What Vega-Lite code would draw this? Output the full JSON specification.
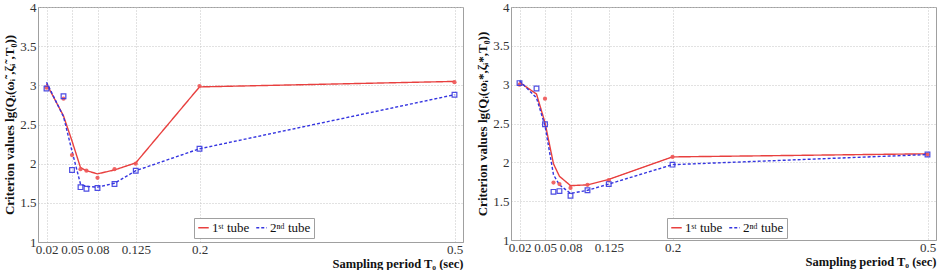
{
  "$schema": "https://vega.github.io/schema/vega-lite/v6.json",
  "background": "white",
  "padding": {"left": 3, "top": 0, "right": 2, "bottom": 0},
  "spacing": 12,
  "datasets": {
    "left": [
      {"tube": "1ˢᵗ tube", "kind": "fit", "T": 0.02, "v": 3.02},
      {"tube": "1ˢᵗ tube", "kind": "fit", "T": 0.04, "v": 2.61},
      {"tube": "1ˢᵗ tube", "kind": "fit", "T": 0.05, "v": 2.29},
      {"tube": "1ˢᵗ tube", "kind": "fit", "T": 0.06, "v": 1.95},
      {"tube": "1ˢᵗ tube", "kind": "fit", "T": 0.067, "v": 1.91},
      {"tube": "1ˢᵗ tube", "kind": "fit", "T": 0.08, "v": 1.87},
      {"tube": "1ˢᵗ tube", "kind": "fit", "T": 0.1, "v": 1.92},
      {"tube": "1ˢᵗ tube", "kind": "fit", "T": 0.125, "v": 2.01},
      {"tube": "1ˢᵗ tube", "kind": "fit", "T": 0.2, "v": 2.98},
      {"tube": "1ˢᵗ tube", "kind": "fit", "T": 0.5, "v": 3.05},
      {"tube": "2ⁿᵈ tube", "kind": "fit", "T": 0.02, "v": 3.04},
      {"tube": "2ⁿᵈ tube", "kind": "fit", "T": 0.04, "v": 2.6},
      {"tube": "2ⁿᵈ tube", "kind": "fit", "T": 0.05, "v": 2.16},
      {"tube": "2ⁿᵈ tube", "kind": "fit", "T": 0.06, "v": 1.74},
      {"tube": "2ⁿᵈ tube", "kind": "fit", "T": 0.067, "v": 1.71},
      {"tube": "2ⁿᵈ tube", "kind": "fit", "T": 0.08, "v": 1.7},
      {"tube": "2ⁿᵈ tube", "kind": "fit", "T": 0.1, "v": 1.75},
      {"tube": "2ⁿᵈ tube", "kind": "fit", "T": 0.125, "v": 1.91},
      {"tube": "2ⁿᵈ tube", "kind": "fit", "T": 0.2, "v": 2.19},
      {"tube": "2ⁿᵈ tube", "kind": "fit", "T": 0.5, "v": 2.88},
      {"tube": "1ˢᵗ tube", "kind": "measured", "T": 0.02, "v": 2.97},
      {"tube": "1ˢᵗ tube", "kind": "measured", "T": 0.04, "v": 2.83},
      {"tube": "1ˢᵗ tube", "kind": "measured", "T": 0.05, "v": 2.11},
      {"tube": "1ˢᵗ tube", "kind": "measured", "T": 0.06, "v": 1.93},
      {"tube": "1ˢᵗ tube", "kind": "measured", "T": 0.067, "v": 1.91},
      {"tube": "1ˢᵗ tube", "kind": "measured", "T": 0.08, "v": 1.82},
      {"tube": "1ˢᵗ tube", "kind": "measured", "T": 0.1, "v": 1.93},
      {"tube": "1ˢᵗ tube", "kind": "measured", "T": 0.125, "v": 2.0},
      {"tube": "1ˢᵗ tube", "kind": "measured", "T": 0.2, "v": 2.99},
      {"tube": "1ˢᵗ tube", "kind": "measured", "T": 0.5, "v": 3.04},
      {"tube": "2ⁿᵈ tube", "kind": "measured", "T": 0.02, "v": 2.96},
      {"tube": "2ⁿᵈ tube", "kind": "measured", "T": 0.04, "v": 2.86},
      {"tube": "2ⁿᵈ tube", "kind": "measured", "T": 0.05, "v": 1.92},
      {"tube": "2ⁿᵈ tube", "kind": "measured", "T": 0.06, "v": 1.7},
      {"tube": "2ⁿᵈ tube", "kind": "measured", "T": 0.067, "v": 1.68},
      {"tube": "2ⁿᵈ tube", "kind": "measured", "T": 0.08, "v": 1.69},
      {"tube": "2ⁿᵈ tube", "kind": "measured", "T": 0.1, "v": 1.74},
      {"tube": "2ⁿᵈ tube", "kind": "measured", "T": 0.125, "v": 1.91},
      {"tube": "2ⁿᵈ tube", "kind": "measured", "T": 0.2, "v": 2.19},
      {"tube": "2ⁿᵈ tube", "kind": "measured", "T": 0.5, "v": 2.88}
    ],
    "right": [
      {"tube": "1ˢᵗ tube", "kind": "fit", "T": 0.02, "v": 3.03},
      {"tube": "1ˢᵗ tube", "kind": "fit", "T": 0.04, "v": 2.88},
      {"tube": "1ˢᵗ tube", "kind": "fit", "T": 0.05, "v": 2.51},
      {"tube": "1ˢᵗ tube", "kind": "fit", "T": 0.06, "v": 1.98},
      {"tube": "1ˢᵗ tube", "kind": "fit", "T": 0.067, "v": 1.82},
      {"tube": "1ˢᵗ tube", "kind": "fit", "T": 0.08, "v": 1.7},
      {"tube": "1ˢᵗ tube", "kind": "fit", "T": 0.1, "v": 1.71},
      {"tube": "1ˢᵗ tube", "kind": "fit", "T": 0.125, "v": 1.78},
      {"tube": "1ˢᵗ tube", "kind": "fit", "T": 0.2, "v": 2.07},
      {"tube": "1ˢᵗ tube", "kind": "fit", "T": 0.5, "v": 2.11},
      {"tube": "2ⁿᵈ tube", "kind": "fit", "T": 0.02, "v": 3.05},
      {"tube": "2ⁿᵈ tube", "kind": "fit", "T": 0.04, "v": 2.83},
      {"tube": "2ⁿᵈ tube", "kind": "fit", "T": 0.05, "v": 2.47},
      {"tube": "2ⁿᵈ tube", "kind": "fit", "T": 0.06, "v": 1.84},
      {"tube": "2ⁿᵈ tube", "kind": "fit", "T": 0.067, "v": 1.71},
      {"tube": "2ⁿᵈ tube", "kind": "fit", "T": 0.08, "v": 1.6},
      {"tube": "2ⁿᵈ tube", "kind": "fit", "T": 0.1, "v": 1.64},
      {"tube": "2ⁿᵈ tube", "kind": "fit", "T": 0.125, "v": 1.72},
      {"tube": "2ⁿᵈ tube", "kind": "fit", "T": 0.2, "v": 1.97},
      {"tube": "2ⁿᵈ tube", "kind": "fit", "T": 0.5, "v": 2.1},
      {"tube": "1ˢᵗ tube", "kind": "measured", "T": 0.02, "v": 3.0},
      {"tube": "1ˢᵗ tube", "kind": "measured", "T": 0.05, "v": 2.82},
      {"tube": "1ˢᵗ tube", "kind": "measured", "T": 0.06, "v": 1.74},
      {"tube": "1ˢᵗ tube", "kind": "measured", "T": 0.067, "v": 1.72},
      {"tube": "1ˢᵗ tube", "kind": "measured", "T": 0.08, "v": 1.67},
      {"tube": "1ˢᵗ tube", "kind": "measured", "T": 0.1, "v": 1.71},
      {"tube": "1ˢᵗ tube", "kind": "measured", "T": 0.125, "v": 1.77},
      {"tube": "1ˢᵗ tube", "kind": "measured", "T": 0.2, "v": 2.07},
      {"tube": "1ˢᵗ tube", "kind": "measured", "T": 0.5, "v": 2.1},
      {"tube": "2ⁿᵈ tube", "kind": "measured", "T": 0.02, "v": 3.02},
      {"tube": "2ⁿᵈ tube", "kind": "measured", "T": 0.04, "v": 2.95},
      {"tube": "2ⁿᵈ tube", "kind": "measured", "T": 0.05, "v": 2.49},
      {"tube": "2ⁿᵈ tube", "kind": "measured", "T": 0.06, "v": 1.62},
      {"tube": "2ⁿᵈ tube", "kind": "measured", "T": 0.067, "v": 1.63},
      {"tube": "2ⁿᵈ tube", "kind": "measured", "T": 0.08, "v": 1.57},
      {"tube": "2ⁿᵈ tube", "kind": "measured", "T": 0.1, "v": 1.64},
      {"tube": "2ⁿᵈ tube", "kind": "measured", "T": 0.125, "v": 1.72},
      {"tube": "2ⁿᵈ tube", "kind": "measured", "T": 0.2, "v": 1.97},
      {"tube": "2ⁿᵈ tube", "kind": "measured", "T": 0.5, "v": 2.1}
    ]
  },
  "config": {
    "font": "Liberation Serif",
    "view": {"stroke": "#a0a0a0", "strokeWidth": 1},
    "axis": {
      "labelFont": "Liberation Serif",
      "labelFontSize": 13,
      "labelColor": "#333333",
      "titleFont": "Liberation Serif",
      "titleFontSize": 13,
      "titleFontWeight": "bold",
      "titleColor": "#111111",
      "domainColor": "#a0a0a0",
      "ticks": false,
      "gridColor": "#c4c4c4",
      "gridDash": [1, 2],
      "gridWidth": 1
    },
    "axisX": {"labelPadding": 1, "titlePadding": 1, "titleFontSize": 12.5},
    "legend": {
      "orient": "none",
      "direction": "horizontal",
      "legendX": 156,
      "legendY": 211,
      "title": null,
      "labelFont": "Liberation Serif",
      "labelFontSize": 13,
      "labelColor": "#111111",
      "symbolType": "stroke",
      "symbolSize": 110,
      "symbolStrokeWidth": 1.5,
      "strokeColor": "#a0a0a0",
      "fillColor": "white",
      "padding": 3,
      "columnPadding": 3,
      "labelOffset": 2
    }
  },
  "resolve": {
    "scale": {"color": "independent", "strokeDash": "independent"},
    "legend": {"color": "independent", "strokeDash": "independent"}
  },
  "hconcat": [
    {
      "width": 425,
      "height": 235,
      "data": {"name": "left"},
      "encoding": {
        "x": {
          "field": "T", "type": "quantitative",
          "scale": {"domain": [0.01, 0.51], "nice": false, "zero": false},
          "axis": {
            "values": [0.02, 0.05, 0.08, 0.125, 0.2, 0.5],
            "labelExpr": "'' + datum.value",
            "title": "Sampling period T₀ (sec)",
            "titleAnchor": "end"
          }
        },
        "y": {
          "field": "v", "type": "quantitative",
          "scale": {"domain": [1, 4], "nice": false, "zero": false},
          "axis": {
            "values": [1, 1.5, 2, 2.5, 3, 3.5, 4],
            "labelExpr": "'' + datum.value",
            "title": "Criterion values lg(Qᵢ(ωᵢ˜,ζᵢ˜,T₀))",
            "titlePadding": 3
          }
        }
      },
      "layer": [
        {
          "transform": [{"filter": "datum.kind === 'fit'"}],
          "mark": {"type": "line", "strokeWidth": 1.4},
          "encoding": {
            "color": {
              "field": "tube", "type": "nominal",
              "scale": {"domain": ["1ˢᵗ tube", "2ⁿᵈ tube"], "range": ["#e8403f", "#3535e0"]}
            },
            "strokeDash": {
              "field": "tube", "type": "nominal",
              "scale": {"domain": ["1ˢᵗ tube", "2ⁿᵈ tube"], "range": [[1, 0], [3, 2]]}
            }
          }
        },
        {
          "transform": [{"filter": "datum.kind === 'measured' && datum.tube === '1ˢᵗ tube'"}],
          "mark": {"type": "point", "shape": "circle", "filled": true, "size": 18, "color": "#ee5555", "opacity": 0.9}
        },
        {
          "transform": [{"filter": "datum.kind === 'measured' && datum.tube === '2ⁿᵈ tube'"}],
          "mark": {"type": "point", "shape": "square", "filled": false, "size": 22, "strokeWidth": 1.2, "color": "#3a3ae0", "opacity": 0.9}
        }
      ]
    },
    {
      "width": 425,
      "height": 233,
      "data": {"name": "right"},
      "encoding": {
        "x": {
          "field": "T", "type": "quantitative",
          "scale": {"domain": [0.01, 0.51], "nice": false, "zero": false},
          "axis": {
            "values": [0.02, 0.05, 0.08, 0.125, 0.2, 0.5],
            "labelExpr": "'' + datum.value",
            "title": "Sampling period T₀ (sec)",
            "titleAnchor": "end"
          }
        },
        "y": {
          "field": "v", "type": "quantitative",
          "scale": {"domain": [1, 4], "nice": false, "zero": false},
          "axis": {
            "values": [1, 1.5, 2, 2.5, 3, 3.5, 4],
            "labelExpr": "'' + datum.value",
            "title": "Criterion values lg(Qᵢ(ωᵢ*,ζᵢ*,T₀))",
            "titlePadding": 3
          }
        }
      },
      "layer": [
        {
          "transform": [{"filter": "datum.kind === 'fit'"}],
          "mark": {"type": "line", "strokeWidth": 1.4},
          "encoding": {
            "color": {
              "field": "tube", "type": "nominal",
              "scale": {"domain": ["1ˢᵗ tube", "2ⁿᵈ tube"], "range": ["#e8403f", "#3535e0"]}
            },
            "strokeDash": {
              "field": "tube", "type": "nominal",
              "scale": {"domain": ["1ˢᵗ tube", "2ⁿᵈ tube"], "range": [[1, 0], [3, 2]]}
            }
          }
        },
        {
          "transform": [{"filter": "datum.kind === 'measured' && datum.tube === '1ˢᵗ tube'"}],
          "mark": {"type": "point", "shape": "circle", "filled": true, "size": 18, "color": "#ee5555", "opacity": 0.9}
        },
        {
          "transform": [{"filter": "datum.kind === 'measured' && datum.tube === '2ⁿᵈ tube'"}],
          "mark": {"type": "point", "shape": "square", "filled": false, "size": 22, "strokeWidth": 1.2, "color": "#3a3ae0", "opacity": 0.9}
        }
      ]
    }
  ]
}
